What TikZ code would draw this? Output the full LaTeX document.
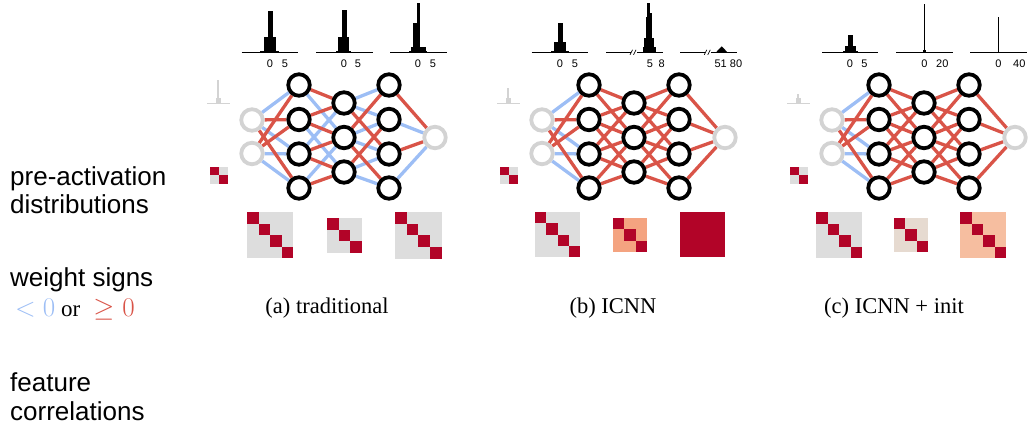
\RequirePackage{fix-cm}
\documentclass[tikz,border=0pt]{standalone}
\usepackage[no-math]{fontspec}
\setmainfont{Liberation Serif}
\setsansfont{Liberation Sans}
\usetikzlibrary{backgrounds}
\definecolor{eblue}{RGB}{157,190,245}
\definecolor{ered}{RGB}{217,84,72}
\definecolor{mred}{RGB}{178,4,40}
\definecolor{mgray}{RGB}{221,221,221}
\definecolor{msalmon}{RGB}{244,163,128}
\definecolor{mbeige}{RGB}{230,218,208}
\definecolor{mpeach}{RGB}{246,190,160}
\definecolor{ngray}{RGB}{211,211,211}
\newcommand\corrmat[5]{%
  \fill[#5] (#1,#2) rectangle ++(#3,#3);
  \foreach \k in {1,...,#4}{\fill[mred] ({#1+(\k-1)*#3/#4},{#2+(\k-1)*#3/#4}) rectangle ++({#3/#4},{#3/#4});}%
}
\begin{document}
\begin{tikzpicture}[x=1pt,y=-1pt,
  wedge/.style={line width=3.3pt},
  posw/.style={wedge,draw=ered},
  negw/.style={wedge,draw=eblue},
  hid/.style={circle,draw=black,line width=3.8pt,fill=white,minimum size=21.5pt,inner sep=0pt},
  io/.style={circle,draw=ngray,line width=3.8pt,fill=white,minimum size=21.5pt,inner sep=0pt},
  ticklbl/.style={font=\sffamily\fontsize{11}{11}\selectfont,anchor=base,inner sep=0pt},
  axisline/.style={line width=0.8pt},
  sidelbl/.style={font=\sffamily\fontsize{26}{28}\selectfont,anchor=base west,inner sep=0pt},
  panelcap/.style={font=\fontsize{22.5}{26}\selectfont,anchor=base,inner sep=0pt}]
\useasboundingbox (0,0) rectangle (1030,429);

% ---------- networks ----------
\foreach \p/\dx in {a/0,b/290,c/580}{
  \node[io] (\p-i1) at (252+\dx,120) {};
  \node[io] (\p-i2) at (252+\dx,153.5) {};
  \node[hid] (\p-h1) at (299+\dx,85) {};
  \node[hid] (\p-h2) at (299+\dx,119.5) {};
  \node[hid] (\p-h3) at (299+\dx,154) {};
  \node[hid] (\p-h4) at (299+\dx,188) {};
  \node[hid] (\p-g1) at (344+\dx,103) {};
  \node[hid] (\p-g2) at (344+\dx,137.5) {};
  \node[hid] (\p-g3) at (344+\dx,172) {};
  \node[hid] (\p-k1) at (389+\dx,85) {};
  \node[hid] (\p-k2) at (389+\dx,119.5) {};
  \node[hid] (\p-k3) at (389+\dx,154) {};
  \node[hid] (\p-k4) at (389+\dx,188) {};
  \node[io] (\p-o) at (435+\dx,137.5) {};
  % small input histogram
  \draw[ngray,line width=1pt] (207+\dx,103.3) -- (230+\dx,103.3);
  \fill[ngray] (216+\dx,98) rectangle (221+\dx,103.3);
}
\fill[ngray] (217.3,80) rectangle (219.3,103.3);
\fill[ngray] (507.3,88) rectangle (509.3,103.3);
\fill[ngray] (797.3,94) rectangle (799.3,103.3);
\corrmat{210}{166.7}{17.5}{2}{mgray}
\corrmat{500}{166.7}{17.5}{2}{mgray}
\corrmat{790}{166.7}{17.5}{2}{mgray}

\begin{pgfonlayer}{background}
  % input layer: same in all panels
  \foreach \p in {a,b,c}{
    \foreach \u/\v in {i1/h1,i1/h3,i2/h3,i2/h4} \draw[negw] (\p-\u) -- (\p-\v);
  }
  % panel a negative weights
  \foreach \u/\v in {h1/g2,h2/g3,h3/g1,h4/g2,
                     g1/k1,g1/k2,g2/k2,g2/k3,g3/k3,g3/k4,
                     k2/o,k4/o} \draw[negw] (a-\u) -- (a-\v);
  \foreach \p in {a,b,c}{
    \foreach \u/\v in {i1/h2,i1/h4,i2/h1,i2/h2} \draw[posw] (\p-\u) -- (\p-\v);
  }
  \foreach \u/\v in {h1/g1,h2/g1,h2/g2,h3/g2,h3/g3,h4/g3,
                     g1/k3,g2/k1,g2/k4,g3/k2,
                     k1/o,k3/o} \draw[posw] (a-\u) -- (a-\v);
  % panels b and c: all hidden weights non-negative
  \foreach \p in {b,c}{
    \foreach \u/\v in {h1/g1,h1/g2,h2/g1,h2/g2,h2/g3,h3/g1,h3/g2,h3/g3,h4/g2,h4/g3,
                       g1/k1,g1/k2,g1/k3,g2/k1,g2/k2,g2/k3,g2/k4,g3/k2,g3/k3,g3/k4,
                       k1/o,k2/o,k3/o,k4/o} \draw[posw] (\p-\u) -- (\p-\v);
  }
\end{pgfonlayer}

% ---------- top histograms ----------
\def\B{52.3}
% (a)
\draw[axisline] (241.7,\B) -- (298.3,\B);
\fill (260,50.8) rectangle (279,\B);
\fill (264,37.3) rectangle (276,\B);
\fill (267.7,11) rectangle (272.7,\B);
\draw[axisline] (316,\B) -- (372.7,\B);
\fill (336,50.8) rectangle (351,\B);
\fill (338.3,37.3) rectangle (349.3,\B);
\fill (341.7,10) rectangle (346.7,\B);
\draw[axisline] (390,\B) -- (446.7,\B);
\fill (409,50.8) rectangle (427,\B);
\fill (411,46.7) rectangle (426,\B);
\fill (413.3,22.7) rectangle (416.7,\B);
\fill (416.7,3.3) rectangle (420,\B);
% (b)
\draw[axisline] (531.7,\B) -- (588.3,\B);
\fill (551,50.8) rectangle (569.3,\B);
\fill (554.3,41.7) rectangle (566,\B);
\fill (557.7,23.3) rectangle (562.7,\B);
\draw[axisline] (606,\B) -- (662.7,\B);
\fill (642.7,46.7) rectangle (655.7,\B);
\fill (644,38.3) rectangle (645.7,\B);
\fill (645.7,16.7) rectangle (647.3,\B);
\fill (647.3,3.3) rectangle (650,\B);
\fill (650,12.7) rectangle (652.3,\B);
\fill (652.3,38.3) rectangle (654,\B);
\draw[axisline] (680,\B) -- (736.7,\B);
\fill (716,\B) -- (719.5,48.6) -- (721.7,46.4) -- (724,48.6) -- (727.3,\B) -- cycle;
% break marks
\foreach \bx in {634,708.3}{
  \fill[white] (\bx-3.5,\B-2) rectangle (\bx+3,\B+2);
  \draw[line width=0.7pt] (\bx-4,\B+2.5) -- (\bx-1.5,\B-2.5);
  \draw[line width=0.7pt] (\bx-0.5,\B+2.5) -- (\bx+2,\B-2.5);
}
% (c)
\draw[axisline] (822.3,\B) -- (878.3,\B);
\fill (843,51) rectangle (858,\B);
\fill (845,46) rectangle (856,\B);
\fill (848.3,35) rectangle (852.7,\B);
\draw[axisline] (896,\B) -- (952.7,\B);
\fill (923,50) rectangle (926,\B);
\fill (923.8,4) rectangle (924.8,\B);
\draw[axisline] (970,\B) -- (1026.7,\B);
\fill (997.6,36) rectangle (999,\B);
\fill (997.8,16.7) rectangle (998.8,\B);

% tick labels
\foreach \tx/\tl in {270/0,285/5,344/0,358/5,418/0,433/5,
                     560/0,575/5,650/5,661.7/8,720.7/51,736/80,
                     850/0,864.3/5,924.3/0,942.3/20,998.3/0,1019.3/40}
  \node[ticklbl] at (\tx,67) {\tl};

% ---------- correlation matrices ----------
\corrmat{247}{212}{46}{4}{mgray}
\corrmat{327}{218}{35}{3}{mgray}
\corrmat{395}{212}{46.5}{4}{mgray}
\corrmat{535}{212}{45}{4}{mgray}
\corrmat{613}{218}{34}{3}{msalmon}
\corrmat{680}{212}{45}{4}{mred}
\corrmat{816}{212}{46}{4}{mgray}
\corrmat{894}{218}{34}{3}{mbeige}
\corrmat{960}{212}{46}{4}{mpeach}

% ---------- captions ----------
\node[panelcap] (capa) at (327,313.3) {(a) traditional};
\node[panelcap] (capb) at (613,313.3) {(b) ICNN};
\node[panelcap] (capc) at (894,313.3) {(c) ICNN + init};

% ---------- side labels ----------
\node[sidelbl,font=\fontsize{27}{28}\selectfont] (s4) at (15,316.7)
  {{\color{eblue}$<$\hspace{7pt}$0$}\hspace{6pt}{\fontsize{23}{26}\selectfont or}\hspace{13pt}{\color{ered}$\geq$\hspace{8pt}$0$}};
\node[sidelbl] (s1) at (10,185) {pre-activation};
\node[sidelbl] (s2) at (10,213.3) {distributions};
\node[sidelbl] (s3) at (10,286.7) {weight signs};
\node[sidelbl] (s5) at (10,391.7) {feature};
\node[sidelbl] (s6) at (10,420) {correlations};
\end{tikzpicture}
\end{document}
